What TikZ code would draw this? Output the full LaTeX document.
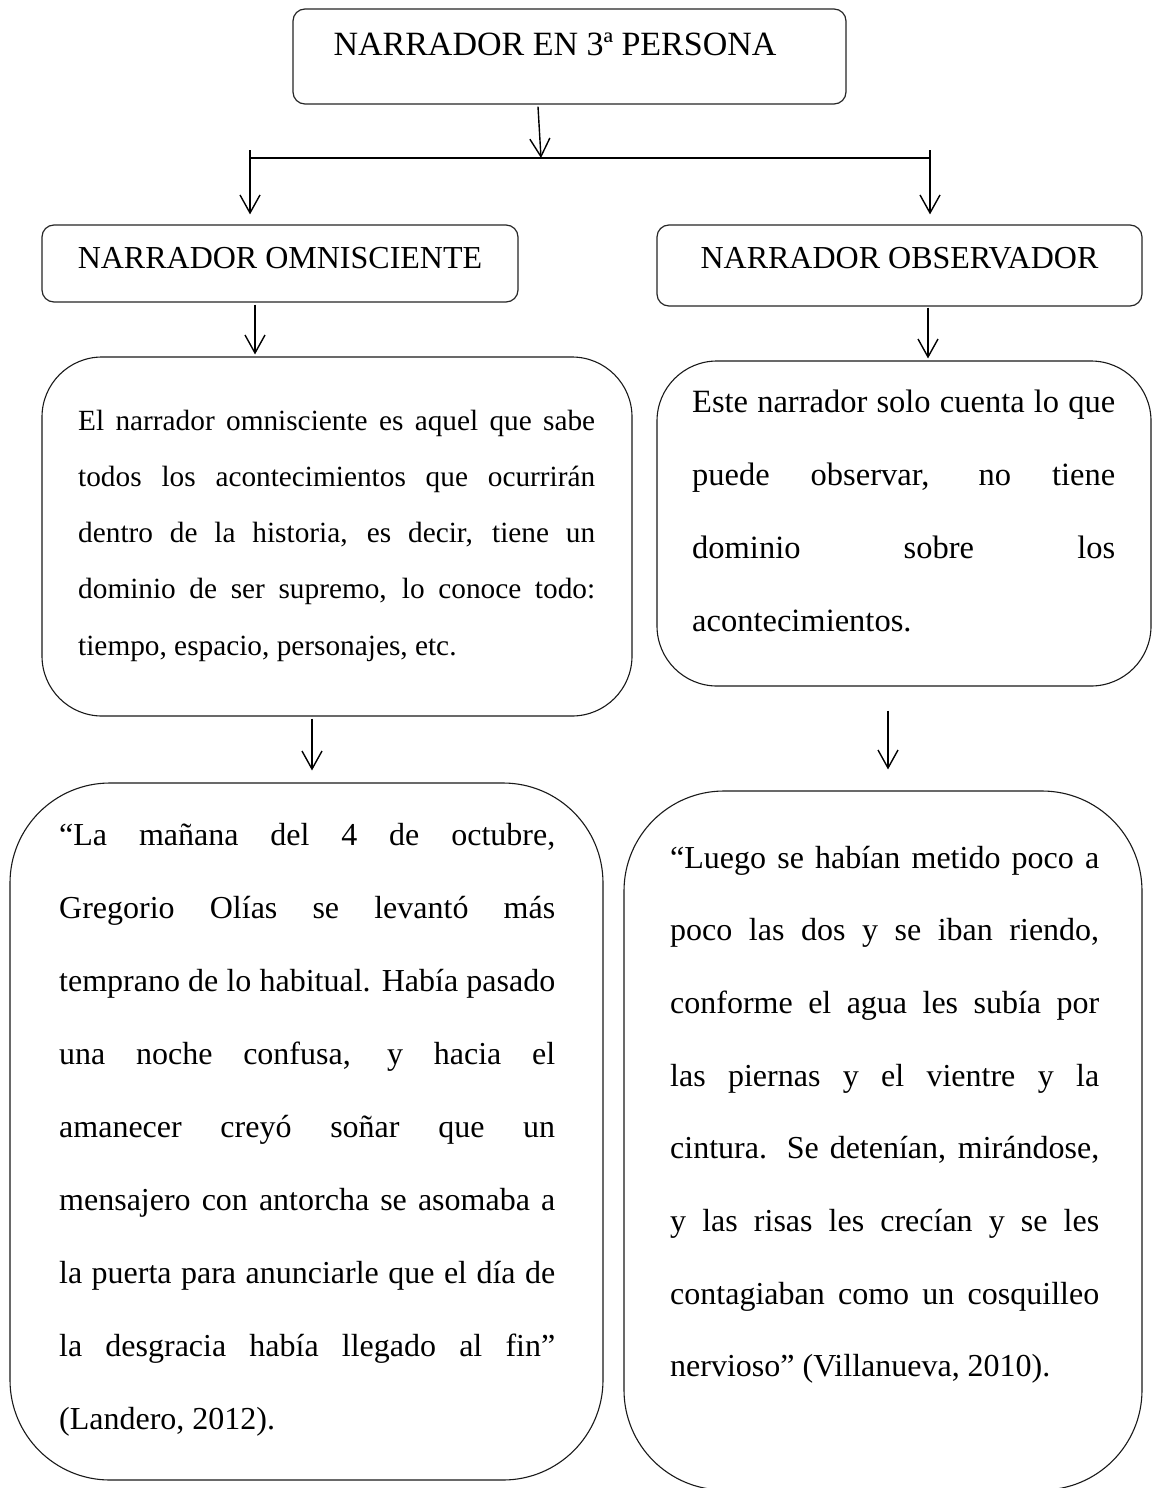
\documentclass[tikz,border=0pt]{standalone}
\usepackage{fontspec}
\setmainfont{Liberation Serif}
\usetikzlibrary{arrows.meta,calc}
\newcommand{\jline}[2]{\makebox[#1][s]{#2}}
\begin{document}
\begin{tikzpicture}[x=1pt,y=-1pt,
  hbox/.style={draw=black!85, line width=1.2pt, rounded corners=12pt, inner sep=0pt},
  dbox/.style={draw=black!90, line width=1.1pt, rounded corners=60pt, inner sep=0pt},
  qbox/.style={draw=black!90, line width=1.1pt, rounded corners=100pt, inner sep=0pt},
  conn/.style={line width=1.4pt, -{Straight Barb[length=18pt,width=20pt,line width=1.4pt]}},
  barline/.style={line width=2pt},
  head/.style={inner sep=0pt, anchor=base},
  para/.style={inner sep=0pt, anchor=base west}]
\useasboundingbox (0,0) rectangle (1153,1488);
\fill[white] (0,0) rectangle (1153,1488);

% boxes
\node[hbox, minimum width=553pt, minimum height=95pt] (top) at (569.5,56.5) {};
\node[hbox, minimum width=476pt, minimum height=77pt] (omn) at (280,263.5) {};
\node[hbox, minimum width=485pt, minimum height=81pt] (obs) at (899.5,265.5) {};
\node[dbox, minimum width=590pt, minimum height=359pt] (descL) at (337,536.5) {};
\node[dbox, minimum width=494pt, minimum height=325pt] (descR) at (904,523.5) {};
\node[qbox, minimum width=593pt, minimum height=697pt] (quoteL) at (306.5,1131.5) {};
\node[qbox, minimum width=518pt, minimum height=699pt] (quoteR) at (883,1140.5) {};

% headings
\node[head, font=\fontsize{34pt}{40pt}\selectfont] (ttop) at (555,56) {NARRADOR EN 3ª PERSONA};
\node[head, font=\fontsize{32pt}{38pt}\selectfont] (tomn) at (280,268.5) {NARRADOR OMNISCIENTE};
\node[head, font=\fontsize{32pt}{38pt}\selectfont] (tobs) at (899.5,268.5) {NARRADOR OBSERVADOR};

% paragraphs
\node[para] (pdescL) at (78,430) {\begin{minipage}[t]{517pt}\fontsize{29.3pt}{56.25pt}\selectfont\setlength{\parindent}{0pt}%
\jline{517pt}{El narrador omnisciente es aquel que sabe}\\
\jline{517pt}{todos los acontecimientos que ocurrirán}\\
\jline{517pt}{dentro de la historia, es decir, tiene un}\\
\jline{517pt}{dominio de ser supremo, lo conoce todo:}\\
tiempo, espacio, personajes, etc.\end{minipage}};

\node[para] (pdescR) at (692,412) {\begin{minipage}[t]{423pt}\fontsize{32.5pt}{73.3pt}\selectfont\setlength{\parindent}{0pt}%
\jline{423pt}{Este narrador solo cuenta lo que}\\
\jline{423pt}{puede observar, no tiene}\\
\jline{423pt}{dominio sobre los}\\
acontecimientos.\end{minipage}};

\node[para] (pquoteL) at (59,845) {\begin{minipage}[t]{496pt}\fontsize{32pt}{73pt}\selectfont\setlength{\parindent}{0pt}%
\jline{496pt}{“La mañana del 4 de octubre,}\\
\jline{496pt}{Gregorio Olías se levantó más}\\
\jline{496pt}{temprano de lo habitual. Había pasado}\\
\jline{496pt}{una noche confusa, y hacia el}\\
\jline{496pt}{amanecer creyó soñar que un}\\
\jline{496pt}{mensajero con antorcha se asomaba a}\\
\jline{496pt}{la puerta para anunciarle que el día de}\\
\jline{496pt}{la desgracia había llegado al fin”}\\
(Landero, 2012).\end{minipage}};

\node[para] (pquoteR) at (670,868) {\begin{minipage}[t]{429pt}\fontsize{32pt}{72.7pt}\selectfont\setlength{\parindent}{0pt}%
\jline{429pt}{“Luego se habían metido poco a}\\
\jline{429pt}{poco las dos y se iban riendo,}\\
\jline{429pt}{conforme el agua les subía por}\\
\jline{429pt}{las piernas y el vientre y la}\\
\jline{429pt}{cintura. Se detenían, mirándose,}\\
\jline{429pt}{y las risas les crecían y se les}\\
\jline{429pt}{contagiaban como un cosquilleo}\\
nervioso” (Villanueva, 2010).\end{minipage}};

% connectors
\coordinate (barmid) at (541,158);
\coordinate (barL) at (250,158);
\coordinate (barR) at (930,158);
\coordinate (tL) at (250,150);
\coordinate (tR) at (930,150);

\draw[conn] ($(top.south)+(-31.5,2)$) -- (barmid);
\draw[barline] (barL) -- (barR);
\draw[conn] (tL) -- ($(tL |- omn.north)+(0,-10)$);
\draw[conn] (tR) -- ($(tR |- obs.north)+(0,-10)$);
\draw[conn] ($(omn.south)+(-25,2)$) -- ($(omn.south |- descL.north)+(-25,-2)$);
\draw[conn] ($(obs.south)+(28.5,1)$) -- ($(obs.south |- descR.north)+(28.5,-2)$);
\draw[conn] ($(descL.south)+(-25,2)$) -- ($(descL.south |- quoteL.north)+(-25,-12)$);
\draw[conn] ($(descR.south)+(-16,24)$) -- ($(descR.south |- quoteR.north)+(-16,-21)$);
\end{tikzpicture}
\end{document}
